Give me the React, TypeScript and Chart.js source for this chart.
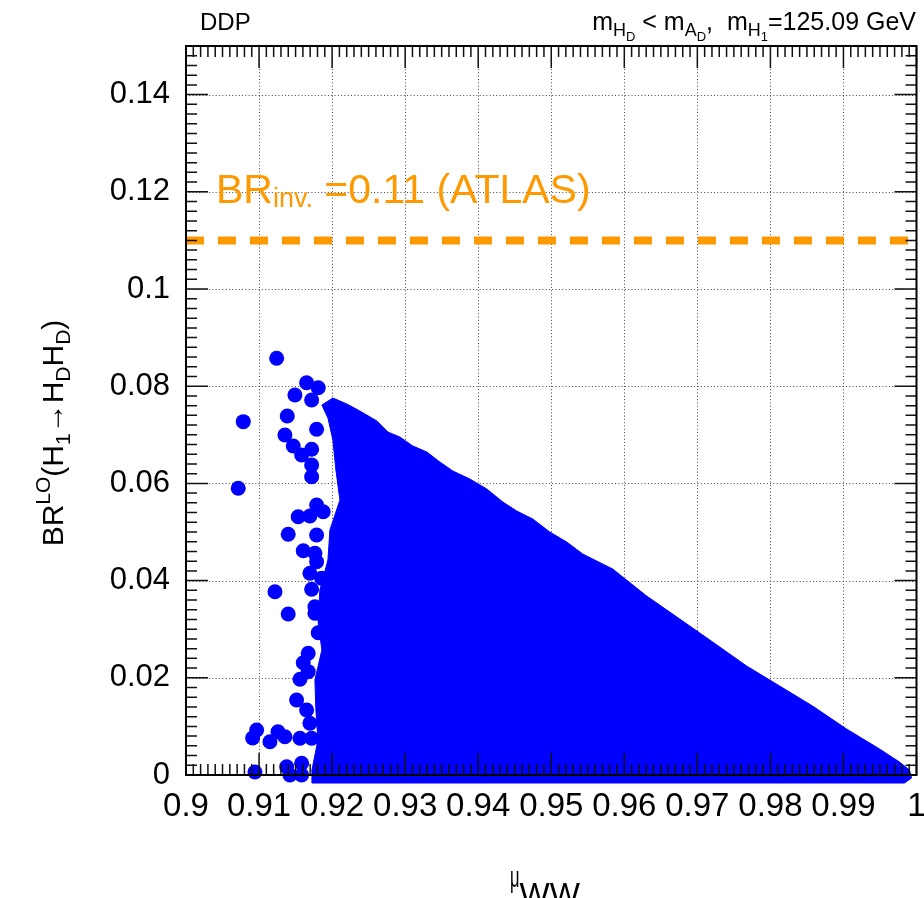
import React, { useEffect, useRef } from 'react';
import { Chart, registerables } from 'chart.js';

Chart.register(...registerables);

// ---------- data ----------
const xTickValues = [0.9, 0.91, 0.92, 0.93, 0.94, 0.95, 0.96, 0.97, 0.98, 0.99, 1.0];
const xTickLabels = ['0.9', '0.91', '0.92', '0.93', '0.94', '0.95', '0.96', '0.97', '0.98', '0.99', '1'];
const yTickValues = [0, 0.02, 0.04, 0.06, 0.08, 0.1, 0.12, 0.14];
const yTickLabels = ['0', '0.02', '0.04', '0.06', '0.08', '0.1', '0.12', '0.14'];

// isolated scan points (mu_WW, BR)
const isolatedMuWW = [
  0.91241, 0.91651, 0.9181, 0.91491, 0.9172, 0.90784, 0.91386, 0.91788, 0.91354, 0.91468,
  0.91583, 0.9172, 0.9172, 0.9172, 0.90715, 0.91788, 0.91536, 0.91696, 0.91878, 0.91399,
  0.91788, 0.91605, 0.91765, 0.91788, 0.91696, 0.91856, 0.9172, 0.91218, 0.91399, 0.91765,
  0.91765, 0.9181, 0.91673, 0.91605, 0.91673, 0.9156, 0.91514, 0.91651, 0.91696, 0.9156,
  0.9172, 0.91378, 0.91423, 0.91583, 0.91583, 0.90967, 0.90912, 0.91149, 0.91259, 0.91354,
  0.90944,
];
const isolatedBR = [
  0.08574, 0.08072, 0.07969, 0.07819, 0.07716, 0.0727, 0.07387, 0.07113, 0.06996, 0.0677,
  0.06584, 0.06702, 0.06379, 0.06138, 0.05899, 0.05556, 0.05315, 0.05329, 0.05418, 0.04953,
  0.04938, 0.04615, 0.04562, 0.04389, 0.0415, 0.04047, 0.03821, 0.03772, 0.03313, 0.03463,
  0.03327, 0.02928, 0.02504, 0.02311, 0.02126, 0.01969, 0.01543, 0.01337, 0.01064, 0.00755,
  0.00755, 0.00171, 0.0, 0.00241, 0.0, 0.00926, 0.00761, 0.00685, 0.00891, 0.00788,
  0.00062,
];

// outline of the densely populated (fully overlapping) region of scan points
const denseOutlineMuWW = [
  0.9186, 0.92011, 0.92202, 0.9238, 0.92613, 0.92763, 0.92927, 0.93105, 0.93297, 0.93475,
  0.93653, 0.93885, 0.94118, 0.94337, 0.94528, 0.94747, 0.9498, 0.95212, 0.95431, 0.95622,
  0.95841, 0.96306, 0.96758, 0.97209, 0.97674, 0.98126, 0.98577, 0.99042, 0.99494, 0.99767,
  0.99904, 0.99932, 0.99836, 0.91724, 0.91724, 0.91806, 0.91778, 0.91765, 0.9186, 0.91806,
  0.91833, 0.91943, 0.9197, 0.92107, 0.92052, 0.92011, 0.91943,
];
const denseOutlineBR = [
  0.07613, 0.07757, 0.07634, 0.0749, 0.07284, 0.07058, 0.06955, 0.0677, 0.06646, 0.0644,
  0.06255, 0.06091, 0.05885, 0.05617, 0.05432, 0.05267, 0.05, 0.04794, 0.04547, 0.04403,
  0.04239, 0.03683, 0.0321, 0.02737, 0.02243, 0.01831, 0.0142, 0.00947, 0.00535, 0.00267,
  0.00103, -0.00062, -0.00165, -0.00165, 0.00103, 0.0072, 0.01337, 0.01955, 0.02572, 0.03189,
  0.03807, 0.04424, 0.05041, 0.05658, 0.06276, 0.06893, 0.07346,
];

const atlasLimit = 0.11;
const xMin = 0.9;
const xMax = 1.0;
const yMin = 0;
const yMax = 0.15;

// ---------- styles ----------
const BLUE = '#0000ff';
const ORANGE = '#ff9900';
const FONT = '"Liberation Sans", Arial, Helvetica, sans-serif';

type Seg = { t: string; size: number; dy?: number; sx?: number };

function drawRich(ctx: CanvasRenderingContext2D, segs: Seg[], x: number, y: number, align: 'left' | 'right' | 'center') {
  const widths = segs.map((s) => {
    ctx.font = `${s.size}px ${FONT}`;
    return ctx.measureText(s.t).width * (s.sx ?? 1);
  });
  const total = widths.reduce((a, b) => a + b, 0);
  let cx = align === 'right' ? x - total : align === 'center' ? x - total / 2 : x;
  segs.forEach((s, i) => {
    ctx.font = `${s.size}px ${FONT}`;
    ctx.save();
    ctx.translate(cx, y + (s.dy ?? 0));
    ctx.scale(s.sx ?? 1, 1);
    ctx.fillText(s.t, 0, 0);
    ctx.restore();
    cx += widths[i];
  });
}

const decorPlugin = {
  id: 'decor',
  beforeDatasetsDraw(chart: any) {
    const { ctx, chartArea: a } = chart;
    const xs = chart.scales.x;
    const ys = chart.scales.y;
    // dotted grid
    ctx.save();
    ctx.strokeStyle = '#444';
    ctx.lineWidth = 1;
    ctx.setLineDash([1, 2.3]);
    xTickValues.forEach((v) => {
      if (v <= xMin || v >= xMax) return;
      const X = Math.round(xs.getPixelForValue(v)) + 0.5;
      ctx.beginPath();
      ctx.moveTo(X, a.top);
      ctx.lineTo(X, a.bottom);
      ctx.stroke();
    });
    yTickValues.forEach((v) => {
      if (v <= yMin || v >= yMax) return;
      const Y = Math.round(ys.getPixelForValue(v)) + 0.5;
      ctx.beginPath();
      ctx.moveTo(a.left, Y);
      ctx.lineTo(a.right, Y);
      ctx.stroke();
    });
    ctx.restore();
    // dense region of overlapping points
    ctx.save();
    ctx.beginPath();
    denseOutlineMuWW.forEach((m, i) => {
      const X = xs.getPixelForValue(m);
      const Y = ys.getPixelForValue(denseOutlineBR[i]);
      if (i === 0) ctx.moveTo(X, Y);
      else ctx.lineTo(X, Y);
    });
    ctx.closePath();
    ctx.fillStyle = BLUE;
    ctx.strokeStyle = BLUE;
    ctx.lineWidth = 1;
    ctx.fill();
    ctx.stroke();
    ctx.restore();
  },
  afterDatasetsDraw(chart: any) {
    const { ctx, chartArea: a } = chart;
    const xs = chart.scales.x;
    const ys = chart.scales.y;
    ctx.save();
    // ticks (inward, both sides)
    ctx.strokeStyle = '#111';
    ctx.lineWidth = 1.5;
    for (let i = 0; i <= 100; i++) {
      const v = xMin + (i * (xMax - xMin)) / 100;
      const X = xs.getPixelForValue(v);
      const len = i % 10 === 0 ? 22 : 11;
      ctx.beginPath();
      ctx.moveTo(X, a.bottom);
      ctx.lineTo(X, a.bottom - len);
      ctx.moveTo(X, a.top);
      ctx.lineTo(X, a.top + len);
      ctx.stroke();
    }
    for (let i = 0; i <= 75; i++) {
      const v = yMin + i * 0.002;
      const Y = ys.getPixelForValue(v);
      const len = i % 10 === 0 ? 22 : 11;
      ctx.beginPath();
      ctx.moveTo(a.left, Y);
      ctx.lineTo(a.left + len, Y);
      ctx.moveTo(a.right, Y);
      ctx.lineTo(a.right - len, Y);
      ctx.stroke();
    }
    // frame
    ctx.strokeStyle = '#000';
    ctx.lineWidth = 2;
    ctx.strokeRect(a.left, a.top, a.right - a.left, a.bottom - a.top);
    ctx.restore();
  },
  afterDraw(chart: any) {
    const { ctx } = chart;
    const ys = chart.scales.y;
    ctx.save();
    ctx.fillStyle = '#000';
    ctx.textBaseline = 'alphabetic';
    // header texts
    drawRich(ctx, [{ t: 'DDP', size: 24 }], 200, 30, 'left');
    drawRich(
      ctx,
      [
        { t: 'm', size: 25 },
        { t: 'H', size: 18, dy: 6 },
        { t: 'D', size: 13, dy: 11 },
        { t: ' < m', size: 25 },
        { t: 'A', size: 18, dy: 6 },
        { t: 'D', size: 13, dy: 11 },
        { t: ',  m', size: 25 },
        { t: 'H', size: 18, dy: 6 },
        { t: '1', size: 13, dy: 11 },
        { t: '=125.09 GeV', size: 25 },
      ],
      916,
      30,
      'right'
    );
    // ATLAS limit label
    ctx.fillStyle = ORANGE;
    const yl = ys.getPixelForValue(atlasLimit) - 37;
    drawRich(
      ctx,
      [
        { t: 'BR', size: 41 },
        { t: 'inv.', size: 27, dy: 4 },
        { t: ' =0.11 (ATLAS)', size: 41 },
      ],
      216,
      yl,
      'left'
    );
    // axis titles
    ctx.fillStyle = '#000';
    drawRich(
      ctx,
      [
        { t: 'μ', size: 30, sx: 0.55 },
        { t: 'WW', size: 32, dy: 18 },
      ],
      510,
      887,
      'left'
    );
    ctx.save();
    ctx.translate(63, 433);
    ctx.rotate(-Math.PI / 2);
    drawRich(
      ctx,
      [
        { t: 'BR', size: 30 },
        { t: 'LO', size: 21, dy: -13 },
        { t: '(H', size: 30 },
        { t: '1', size: 21, dy: 7 },
        { t: '→', size: 30 },
        { t: 'H', size: 30 },
        { t: 'D', size: 21, dy: 7 },
        { t: 'H', size: 30 },
        { t: 'D', size: 21, dy: 7 },
        { t: ')', size: 30 },
      ],
      0,
      0,
      'center'
    );
    ctx.restore();
    ctx.restore();
  },
};

function labelFor(values: number[], labels: string[], v: number) {
  const i = values.findIndex((t) => Math.abs(t - v) < 1e-9);
  return i >= 0 ? labels[i] : '';
}

export default function App() {
  const ref = useRef<HTMLCanvasElement>(null);
  useEffect(() => {
    if (!ref.current) return;
    const chart = new Chart(ref.current, {
      type: 'scatter',
      data: {
        datasets: [
          {
            type: 'line',
            label: 'ATLAS',
            data: [
              { x: xMin, y: atlasLimit },
              { x: xMax, y: atlasLimit },
            ],
            borderColor: ORANGE,
            borderWidth: 8,
            borderDash: [18, 14],
            borderCapStyle: 'butt',
            pointRadius: 0,
            fill: false,
          } as any,
          {
            label: 'scan',
            data: isolatedMuWW.map((m, i) => ({ x: m, y: isolatedBR[i] })),
            backgroundColor: BLUE,
            borderColor: BLUE,
            borderWidth: 0,
            pointRadius: 7.5,
            pointHoverRadius: 7.5,
            clip: false,
          } as any,
        ],
      },
      options: {
        animation: false,
        responsive: false,
        devicePixelRatio: 1,
        events: [],
        layout: { padding: { left: 0, right: 7, top: 46, bottom: 0 } },
        plugins: {
          legend: { display: false },
          tooltip: { enabled: false },
          title: { display: false },
        },
        scales: {
          x: {
            type: 'linear',
            min: xMin,
            max: xMax,
            grid: { display: false, drawTicks: false },
            border: { display: false },
            afterBuildTicks: (s: any) => {
              s.ticks = xTickValues.map((v) => ({ value: v }));
            },
            afterFit: (s: any) => {
              s.height = 123;
              s.paddingLeft = 0;
              s.paddingRight = 0;
            },
            ticks: {
              autoSkip: false,
              maxRotation: 0,
              minRotation: 0,
              padding: 12,
              color: '#000',
              font: { family: FONT, size: 33 },
              callback: (v: any) => labelFor(xTickValues, xTickLabels, Number(v)),
            },
          },
          y: {
            type: 'linear',
            min: yMin,
            max: yMax,
            grid: { display: false, drawTicks: false },
            border: { display: false },
            afterBuildTicks: (s: any) => {
              s.ticks = yTickValues.map((v) => ({ value: v }));
            },
            afterFit: (s: any) => {
              s.width = 186;
              s.paddingTop = 0;
              s.paddingBottom = 0;
            },
            ticks: {
              autoSkip: false,
              padding: 16,
              color: '#000',
              font: { family: FONT, size: 31 },
              callback: (v: any) => labelFor(yTickValues, yTickLabels, Number(v)),
            },
          },
        },
      } as any,
      plugins: [decorPlugin],
    });
    return () => chart.destroy();
  }, []);
  return (
    <div style={{ position: 'absolute', left: 0, top: 0, width: 924, height: 898, background: '#fff' }}>
      <canvas ref={ref} width={924} height={898} style={{ display: 'block', width: 924, height: 898 }} />
    </div>
  );
}
